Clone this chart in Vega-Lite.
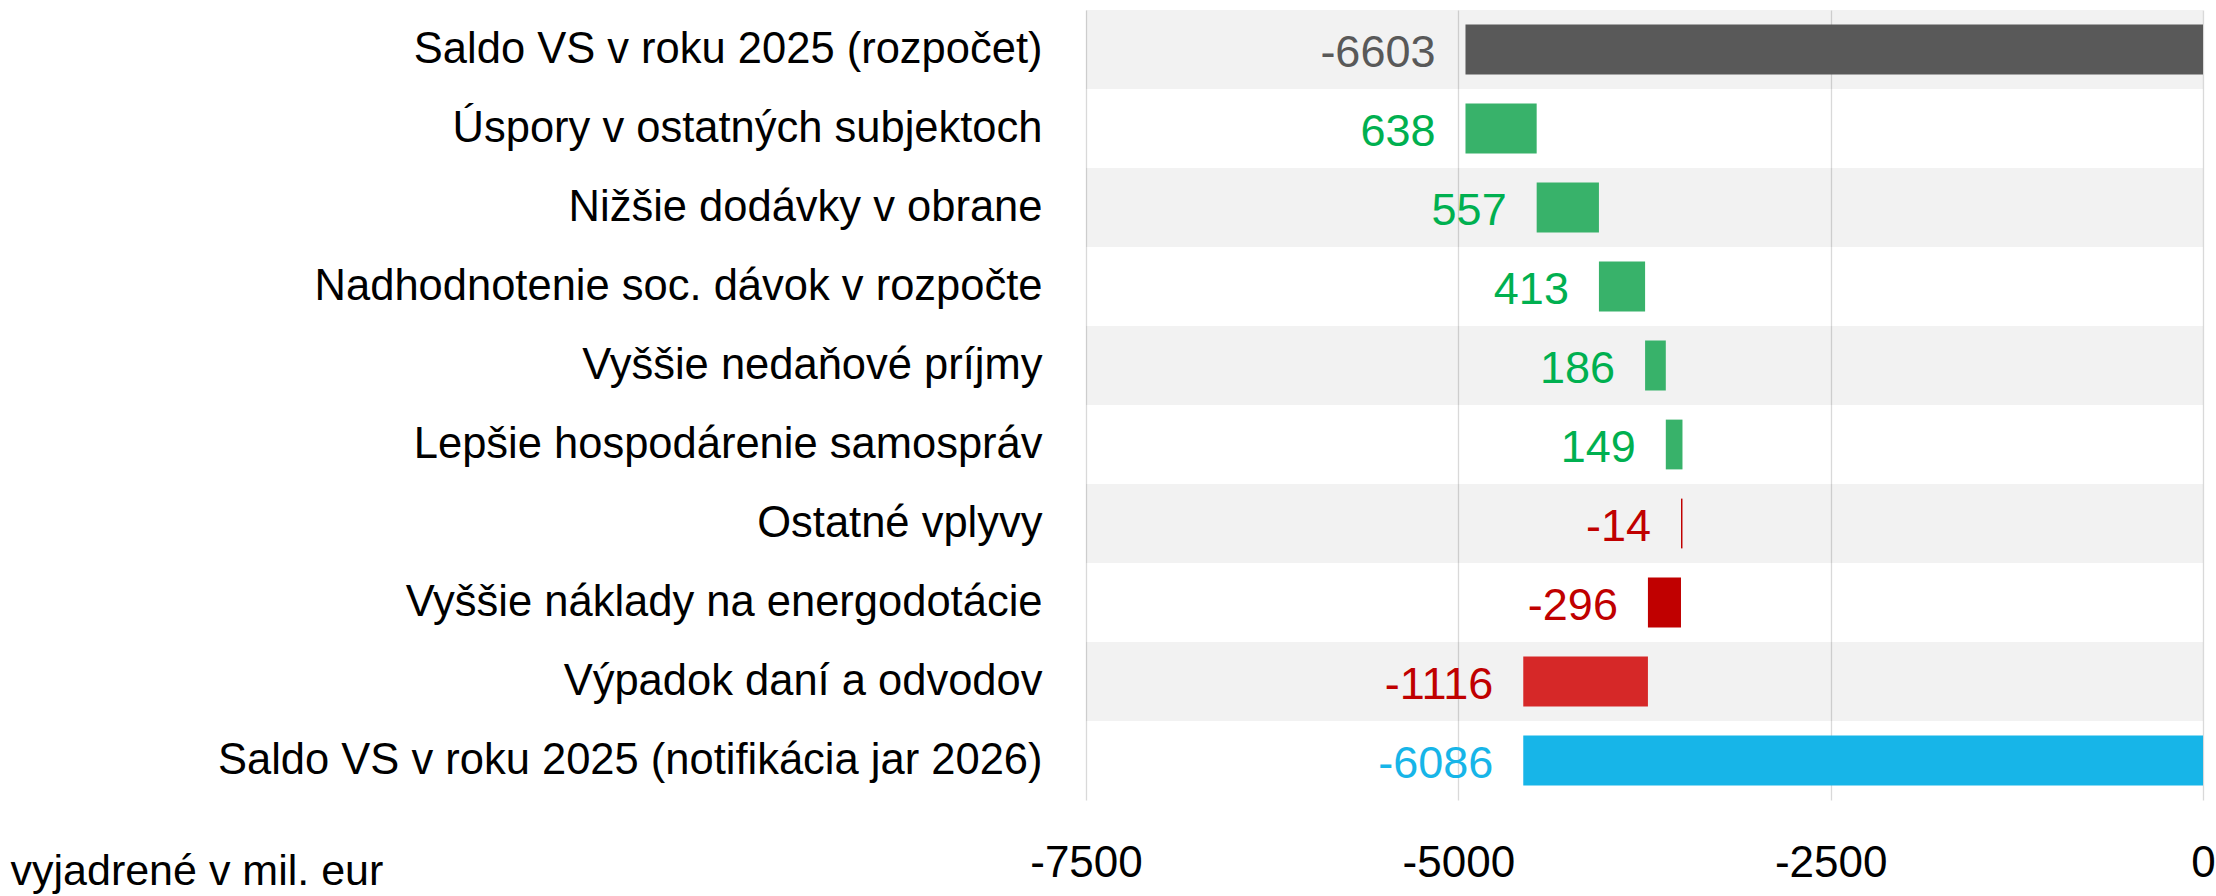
{
  "$schema": "https://vega.github.io/schema/vega-lite/v6.json",
  "width": 1117,
  "height": 790,
  "autosize": {"type": "none"},
  "padding": {"left": 1086, "top": 10, "right": 13, "bottom": 96},
  "background": "white",
  "config": {"font": "Liberation Sans", "view": {"stroke": null}},
  "data": {"values": [
    {"kategoria": "Saldo VS v roku 2025 (rozpočet)", "zmena": -6603, "lavy_okraj": -4952, "pravy_okraj": 0},
    {"kategoria": "Úspory v ostatných subjektoch", "zmena": 638, "lavy_okraj": -4952, "pravy_okraj": -4474},
    {"kategoria": "Nižšie dodávky v obrane", "zmena": 557, "lavy_okraj": -4474, "pravy_okraj": -4056},
    {"kategoria": "Nadhodnotenie soc. dávok v rozpočte", "zmena": 413, "lavy_okraj": -4056, "pravy_okraj": -3746},
    {"kategoria": "Vyššie nedaňové príjmy", "zmena": 186, "lavy_okraj": -3746, "pravy_okraj": -3607},
    {"kategoria": "Lepšie hospodárenie samospráv", "zmena": 149, "lavy_okraj": -3607, "pravy_okraj": -3495},
    {"kategoria": "Ostatné vplyvy", "zmena": -14, "lavy_okraj": -3505, "pravy_okraj": -3495},
    {"kategoria": "Vyššie náklady na energodotácie", "zmena": -296, "lavy_okraj": -3727, "pravy_okraj": -3505},
    {"kategoria": "Výpadok daní a odvodov", "zmena": -1116, "lavy_okraj": -4564, "pravy_okraj": -3727},
    {"kategoria": "Saldo VS v roku 2025 (notifikácia jar 2026)", "zmena": -6086, "lavy_okraj": -4564, "pravy_okraj": 0}
  ]},
  "encoding": {
    "y": {
      "field": "kategoria",
      "type": "nominal",
      "sort": null,
      "scale": {
        "domain": [
          "Saldo VS v roku 2025 (rozpočet)",
          "Úspory v ostatných subjektoch",
          "Nižšie dodávky v obrane",
          "Nadhodnotenie soc. dávok v rozpočte",
          "Vyššie nedaňové príjmy",
          "Lepšie hospodárenie samospráv",
          "Ostatné vplyvy",
          "Vyššie náklady na energodotácie",
          "Výpadok daní a odvodov",
          "Saldo VS v roku 2025 (notifikácia jar 2026)"
        ],
        "paddingInner": 0,
        "paddingOuter": 0
      },
      "axis": {
        "title": null,
        "ticks": false,
        "domain": false,
        "grid": false,
        "labelFontSize": 43.5,
        "labelColor": "#000000",
        "labelPadding": 44,
        "labelLimit": 1200,
        "labelAlign": "right",
        "labelBaseline": "middle"
      }
    }
  },
  "layer": [
    {
      "transform": [{"filter": {"field": "kategoria", "oneOf": [
        "Saldo VS v roku 2025 (rozpočet)",
        "Nižšie dodávky v obrane",
        "Vyššie nedaňové príjmy",
        "Ostatné vplyvy",
        "Výpadok daní a odvodov"
      ]}}],
      "mark": {"type": "bar", "color": "#000000", "opacity": 0.051},
      "encoding": {
        "x": {
          "datum": -7500,
          "type": "quantitative",
          "scale": {"domain": [-7500, 0], "nice": false, "zero": false}
        },
        "x2": {"datum": 0}
      }
    },
    {
      "mark": {"type": "bar", "height": {"band": 0.63}},
      "encoding": {
        "x": {
          "field": "lavy_okraj",
          "type": "quantitative",
          "scale": {"domain": [-7500, 0], "nice": false, "zero": false},
          "axis": {
            "values": [-7500, -5000, -2500, 0],
            "labelExpr": "'' + datum.value",
            "ticks": false,
            "domain": false,
            "grid": true,
            "gridColor": "#d9d9d9",
            "gridWidth": 1.3,
            "labelFontSize": 44,
            "labelColor": "#000000",
            "labelPadding": 41,
            "labelFlush": false,
            "title": "vyjadrené v mil. eur",
            "titleFontSize": 43,
            "titleFontWeight": "normal",
            "titleColor": "#000000",
            "titleX": -1076,
            "titleY": 71,
            "titleAlign": "left",
            "titleBaseline": "middle",
            "titleAngle": 0
          }
        },
        "x2": {"field": "pravy_okraj"},
        "color": {
          "field": "kategoria",
          "type": "nominal",
          "legend": null,
          "scale": {
            "domain": [
              "Saldo VS v roku 2025 (rozpočet)",
              "Úspory v ostatných subjektoch",
              "Nižšie dodávky v obrane",
              "Nadhodnotenie soc. dávok v rozpočte",
              "Vyššie nedaňové príjmy",
              "Lepšie hospodárenie samospráv",
              "Ostatné vplyvy",
              "Vyššie náklady na energodotácie",
              "Výpadok daní a odvodov",
              "Saldo VS v roku 2025 (notifikácia jar 2026)"
            ],
            "range": ["#595959", "#38b26a", "#38b26a", "#38b26a", "#38b26a", "#38b26a", "#c00000", "#c00000", "#d62828", "#17b5e8"]
          }
        }
      }
    },
    {
      "mark": {"type": "text", "align": "right", "baseline": "middle", "dx": -30, "dy": 3, "fontSize": 45},
      "encoding": {
        "x": {"field": "lavy_okraj", "type": "quantitative", "scale": {"domain": [-7500, 0], "nice": false, "zero": false}},
        "text": {"field": "zmena", "type": "nominal"},
        "color": {
          "field": "kategoria",
          "type": "nominal",
          "legend": null,
          "scale": {
            "domain": [
              "Saldo VS v roku 2025 (rozpočet)",
              "Úspory v ostatných subjektoch",
              "Nižšie dodávky v obrane",
              "Nadhodnotenie soc. dávok v rozpočte",
              "Vyššie nedaňové príjmy",
              "Lepšie hospodárenie samospráv",
              "Ostatné vplyvy",
              "Vyššie náklady na energodotácie",
              "Výpadok daní a odvodov",
              "Saldo VS v roku 2025 (notifikácia jar 2026)"
            ],
            "range": ["#595959", "#00b050", "#00b050", "#00b050", "#00b050", "#00b050", "#c00000", "#c00000", "#c00000", "#17b5e8"]
          }
        }
      }
    }
  ],
  "resolve": {"scale": {"color": "independent"}}
}
